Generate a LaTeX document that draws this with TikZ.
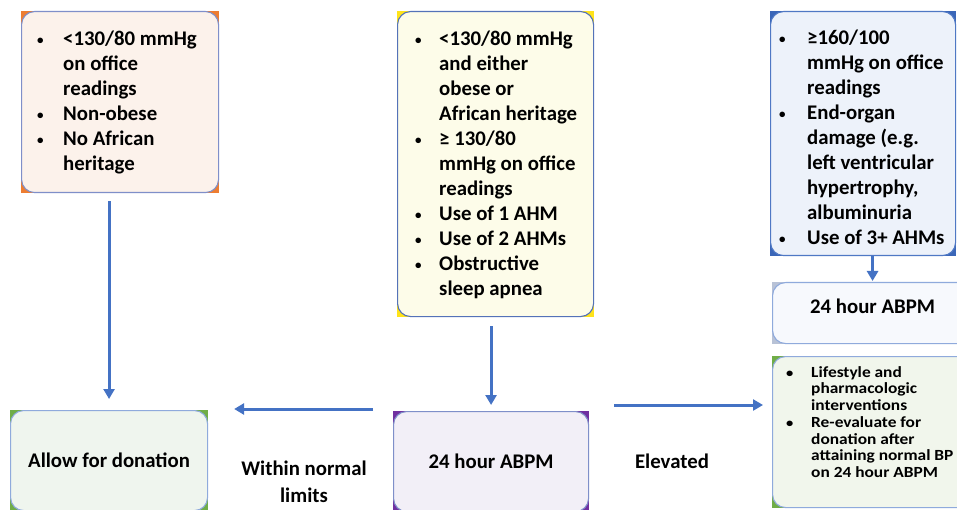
\documentclass[tikz,border=0pt]{standalone}
\usepackage{fontspec}
\setmainfont{Carlito}
\newfontfamily\stretchfont{Carlito}[FakeStretch=1.12]
\usetikzlibrary{arrows.meta,backgrounds,calc}
\definecolor{arrblue}{HTML}{4472C4}
\definecolor{bordA}{HTML}{7F8FC9}
\definecolor{bordB}{HTML}{5472B8}
\definecolor{bordC}{HTML}{4F78C4}
\definecolor{bordL}{HTML}{8FAADC}
\definecolor{fillA}{HTML}{FCF2EB}
\definecolor{fillB}{HTML}{FDFCE9}
\definecolor{fillC}{HTML}{EDF2FA}
\definecolor{fillD}{HTML}{F7F9FD}
\definecolor{fillE}{HTML}{F1F6EC}
\definecolor{fillF}{HTML}{EFF5EE}
\definecolor{fillG}{HTML}{F2EFF7}
\definecolor{cornA}{HTML}{ED7D31}
\definecolor{cornB}{HTML}{FFE31A}
\definecolor{cornC}{HTML}{3A66B8}
\definecolor{cornD}{HTML}{B8C2D6}
\definecolor{cornE}{HTML}{70AD47}
\definecolor{cornG}{HTML}{7030A0}
\newcommand{\mybul}[2]{\makebox[#1][l]{\raisebox{#2}{\fontsize{13}{13}\selectfont •}}}
\begin{document}
\begin{tikzpicture}[x=1pt,y=-1pt,
  box/.style={draw, line width=1.1pt, rounded corners=13pt, anchor=north west, inner sep=0pt},
  txt/.style={anchor=north west, inner sep=0pt, align=left, font=\fontsize{20.8}{25}\selectfont\bfseries},
  smalltxt/.style={anchor=north west, inner sep=0pt, align=left, font=\stretchfont\fontsize{15.5}{16.7}\selectfont\bfseries},
  lbl/.style={inner sep=0pt, align=center, font=\fontsize{20.8}{27}\selectfont\bfseries},
  arr/.style={draw=arrblue, line width=3pt, -{Triangle[length=10pt,width=11pt]}}]
\useasboundingbox (0,0) rectangle (957,510);
\clip (0,0) rectangle (957,510);

% boxes
\node[box, draw=bordA, fill=fillA, minimum width=197pt, minimum height=181pt] (A) at (21,11) {};
\node[box, draw=bordB, fill=fillB, minimum width=196pt, minimum height=305pt] (B) at (397,11) {};
\node[box, draw=bordC, fill=fillC, minimum width=185pt, minimum height=244pt] (C) at (770,11) {};
\node[box, draw=bordL, fill=fillD, minimum width=200pt, minimum height=61pt] (D) at (772,282) {};
\node[box, draw=bordL, fill=fillE, minimum width=200pt, minimum height=151pt] (E) at (772,356) {};
\node[box, draw=bordL, fill=fillF, minimum width=197pt, minimum height=100pt] (F) at (10,410) {};
\node[box, draw=bordA, fill=fillG, minimum width=195pt, minimum height=100pt] (G) at (393,411) {};

\begin{scope}[on background layer]
  \fill[white] (0,0) rectangle (957,510);
  \fill[cornA] (A.north west) rectangle (A.south east);
  \fill[cornB] (B.north west) rectangle (B.south east);
  \fill[cornC] (C.north west) rectangle (C.south east);
  \fill[cornD] (D.north west) rectangle (D.south east);
  \fill[cornE] (E.north west) rectangle (E.south east);
  \fill[cornE] (F.north west) rectangle (F.south east);
  \fill[cornG] (G.north west) rectangle (G.south east);
\end{scope}

% texts
\node[txt] (At) at (37,29) {\rule{0pt}{16pt}\mybul{26pt}{1pt}<130/80 mmHg\\
\hspace*{26pt}on office\\
\hspace*{26pt}readings\\
\mybul{26pt}{1pt}Non-obese\\
\mybul{26pt}{1pt}No African\\
\hspace*{26pt}heritage};

\node[txt] (Bt) at (415,29) {\rule{0pt}{16pt}\mybul{24pt}{1pt}<130/80 mmHg\\
\hspace*{24pt}and either\\
\hspace*{24pt}obese or\\
\hspace*{24pt}African heritage\\
\mybul{24pt}{1pt}≥ 130/80\\
\hspace*{24pt}mmHg on office\\
\hspace*{24pt}readings\\
\mybul{24pt}{1pt}Use of 1 AHM\\
\mybul{24pt}{1pt}Use of 2 AHMs\\
\mybul{24pt}{1pt}Obstructive\\
\hspace*{24pt}sleep apnea};

\node[txt] (Ct) at (779,28) {\rule{0pt}{16pt}\mybul{28pt}{1pt}≥160/100\\
\hspace*{28pt}mmHg on office\\
\hspace*{28pt}readings\\
\mybul{28pt}{1pt}End-organ\\
\hspace*{28pt}damage (e.g.\\
\hspace*{28pt}left ventricular\\
\hspace*{28pt}hypertrophy,\\
\hspace*{28pt}albuminuria\\
\mybul{28pt}{1pt}Use of 3+ AHMs};

\node[lbl, anchor=base] (Dt) at ($(D.north)+(0,31)$) {24 hour ABPM};

\node[smalltxt] (Et) at (786,365) {\rule{0pt}{12pt}\mybul{25pt}{0pt}Lifestyle and\\
\hspace*{25pt}pharmacologic\\
\hspace*{25pt}interventions\\
\mybul{25pt}{0pt}Re-evaluate for\\
\hspace*{25pt}donation after\\
\hspace*{25pt}attaining normal BP\\
\hspace*{25pt}on 24 hour ABPM};

\node[lbl] (Ft) at (F.center) {Allow for donation};
\node[lbl] (Gt) at (G.center) {24 hour ABPM};
\node[lbl, anchor=north] (Wl) at (304,459) {\rule{0pt}{16pt}Within normal\\limits};
\node[lbl, anchor=base] (El) at (672,468) {Elevated};

% arrows
\draw[arr, shorten <=8pt, shorten >=11pt] (F.north |- A.south) -- (F.north);
\draw[arr, shorten <=9pt, shorten >=6pt] (G.north |- B.south) -- (G.north);
\draw[arr, shorten >=1pt] (D.north |- C.south) -- (D.north);
\draw[arr, shorten <=20pt, shorten >=26pt] ([yshift=2pt]G.north west) -- ([yshift=2pt]G.north west -| F.east);
\draw[arr, shorten <=25pt, shorten >=9pt] ([yshift=6pt]G.north east) -- ([yshift=6pt]G.north east -| E.west);
\end{tikzpicture}
\end{document}
